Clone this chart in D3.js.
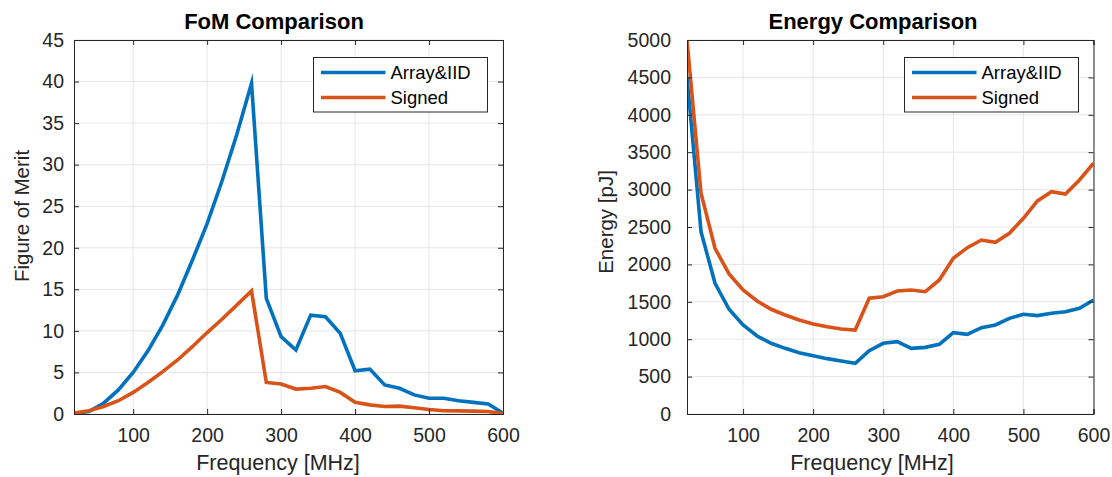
<!DOCTYPE html>
<html>
<head>
<meta charset="utf-8">
<script src="https://cdn.jsdelivr.net/npm/d3@7"></script>
<style>
  html, body { margin: 0; padding: 0; background: #fff; }
  svg { display: block; font-family: "Liberation Sans", Arial, Helvetica, sans-serif; }
</style>
</head>
<body>
<svg id="chart" width="1112" height="477"></svg>
<script>
// ---------------- data ----------------
const freq = [20, 40, 60, 80, 100, 120, 140, 160, 180, 200, 220, 240, 260, 280, 300,
              320, 340, 360, 380, 400, 420, 440, 460, 480, 500, 520, 540, 560, 580, 600];

const fomArrayIID = [0.05, 0.3, 1.3, 2.9, 5.0, 7.6, 10.7, 14.3, 18.5, 22.9, 28.0, 33.6, 39.8, 13.9, 9.3,
                     7.7, 11.9, 11.7, 9.7, 5.2, 5.4, 3.5, 3.1, 2.3, 1.9, 1.9, 1.6, 1.4, 1.2, 0.1];
const fomSigned   = [0.1, 0.4, 0.9, 1.6, 2.6, 3.8, 5.1, 6.5, 8.1, 9.8, 11.4, 13.1, 14.8, 3.8, 3.6,
                     3.0, 3.1, 3.3, 2.6, 1.4, 1.1, 0.9, 0.95, 0.75, 0.55, 0.4, 0.38, 0.35, 0.3, 0.05];

const energyArrayIID = [4510, 2437, 1747, 1400, 1190, 1043, 945, 878, 820, 780, 740, 709, 678, 846, 945,
                        967, 878, 891, 932, 1087, 1065, 1154, 1190, 1279, 1333, 1315, 1346, 1368, 1413, 1524];
const energySigned   = [5000, 2951, 2215, 1872, 1658, 1511, 1400, 1324, 1257, 1203, 1167, 1136, 1123, 1547, 1568,
                        1644, 1658, 1635, 1792, 2082, 2224, 2326, 2296, 2416, 2616, 2848, 2972, 2941, 3129, 3352];

const seriesNames = ["Array&IID", "Signed"];
const seriesColors = ["#0072BD", "#D95319"];

const xTicks = [100, 200, 300, 400, 500, 600];
const fomTicks = [0, 5, 10, 15, 20, 25, 30, 35, 40, 45];
const energyTicks = [0, 500, 1000, 1500, 2000, 2500, 3000, 3500, 4000, 4500, 5000];

// ---------------- drawing ----------------
const svg = d3.select("#chart");
const AXC = "#262626";
const GRIDC = "#e6e6e6";

function panel(cfg) {
  const g = svg.append("g");
  const x = d3.scaleLinear().domain([20, 600]).range([cfg.left, cfg.right]);
  const y = d3.scaleLinear().domain(cfg.yDomain).range([414, 40]);
  const top = 40, bottom = 414;

  // grid
  g.append("g").selectAll("line").data(xTicks).join("line")
    .attr("x1", d => x(d)).attr("x2", d => x(d)).attr("y1", top).attr("y2", bottom)
    .attr("stroke", GRIDC).attr("stroke-width", 1);
  g.append("g").selectAll("line").data(cfg.yTicks).join("line")
    .attr("x1", cfg.left).attr("x2", cfg.right).attr("y1", d => y(d)).attr("y2", d => y(d))
    .attr("stroke", GRIDC).attr("stroke-width", 1);

  // clip
  const clipId = "clip" + cfg.id;
  svg.append("clipPath").attr("id", clipId).append("rect")
    .attr("x", cfg.left).attr("y", top).attr("width", cfg.right - cfg.left).attr("height", bottom - top);

  // lines
  const line = d3.line().x((d, i) => x(freq[i])).y(d => y(d));
  const lg = g.append("g").attr("clip-path", `url(#${clipId})`);
  cfg.series.forEach((s, k) => {
    lg.append("path").datum(s).attr("d", line)
      .attr("fill", "none").attr("stroke", seriesColors[k]).attr("stroke-width", 3.6)
      .attr("stroke-linejoin", "miter").attr("stroke-miterlimit", 10);
  });

  // axes with inward ticks
  const tl = 5;
  const fmt = d3.format("d");
  const axB = g.append("g").attr("transform", `translate(0,${bottom})`)
    .call(d3.axisBottom(x).tickValues(xTicks).tickSize(-tl).tickPadding(14).tickFormat(fmt));
  const axT = g.append("g").attr("transform", `translate(0,${top})`)
    .call(d3.axisTop(x).tickValues(xTicks).tickSize(-tl).tickFormat(""));
  const axL = g.append("g").attr("transform", `translate(${cfg.left},0)`)
    .call(d3.axisLeft(y).tickValues(cfg.yTicks).tickSize(-tl).tickPadding(cfg.yPad).tickFormat(fmt));
  const axR = g.append("g").attr("transform", `translate(${cfg.right},0)`)
    .call(d3.axisRight(y).tickValues(cfg.yTicks).tickSize(-tl).tickFormat(""));
  [axB, axT, axL, axR].forEach(a => {
    a.select(".domain").attr("stroke", AXC).attr("stroke-width", 1);
    a.selectAll(".tick line").attr("stroke", AXC);
    a.selectAll("text").attr("fill", AXC).style("font-size", "19.5px")
      .style("font-family", "'Liberation Sans', Arial, sans-serif");
  });
  axB.selectAll("text").attr("dy", "0.71em");

  // title
  svg.append("text").attr("x", cfg.titleX).attr("y", 29).attr("text-anchor", "middle")
    .style("font-size", "22px").style("font-weight", "bold").attr("fill", "#000").text(cfg.title);
  // x label
  svg.append("text").attr("x", cfg.xLabelX).attr("y", 470).attr("text-anchor", "middle")
    .style("font-size", "21.5px").attr("fill", AXC).text("Frequency [MHz]");
  // y label
  svg.append("text").attr("transform", `translate(${cfg.yLabelX},${cfg.yLabelY}) rotate(-90)`)
    .attr("text-anchor", "middle").style("font-size", "20.5px").attr("fill", AXC).text(cfg.yLabel);

  // legend
  const L = cfg.legend;
  const leg = svg.append("g");
  leg.append("rect").attr("x", L.x).attr("y", 57.5).attr("width", L.w).attr("height", 54.5)
    .attr("fill", "#fff").attr("stroke", AXC).attr("stroke-width", 1);
  seriesNames.forEach((n, k) => {
    const yy = 72.5 + k * 25;
    leg.append("line").attr("x1", L.x + 7.5).attr("x2", L.x + 72).attr("y1", yy).attr("y2", yy)
      .attr("stroke", seriesColors[k]).attr("stroke-width", 3.6);
    leg.append("text").attr("x", L.x + 77).attr("y", yy).attr("dy", "0.35em")
      .style("font-size", "18.5px").attr("fill", "#000").text(n);
  });
}

panel({
  id: "a", left: 74, right: 503, yDomain: [0, 45], yTicks: fomTicks, yPad: 10,
  series: [fomArrayIID, fomSigned], title: "FoM Comparison", titleX: 274, xLabelX: 278,
  yLabel: "Figure of Merit", yLabelX: 29, yLabelY: 216, legend: { x: 313.5, w: 174 }
});
panel({
  id: "b", left: 687, right: 1093.5, yDomain: [0, 5000], yTicks: energyTicks, yPad: 16,
  series: [energyArrayIID, energySigned], title: "Energy Comparison", titleX: 873, xLabelX: 872,
  yLabel: "Energy [pJ]", yLabelX: 613, yLabelY: 222, legend: { x: 904.5, w: 174 }
});
</script>
</body>
</html>
